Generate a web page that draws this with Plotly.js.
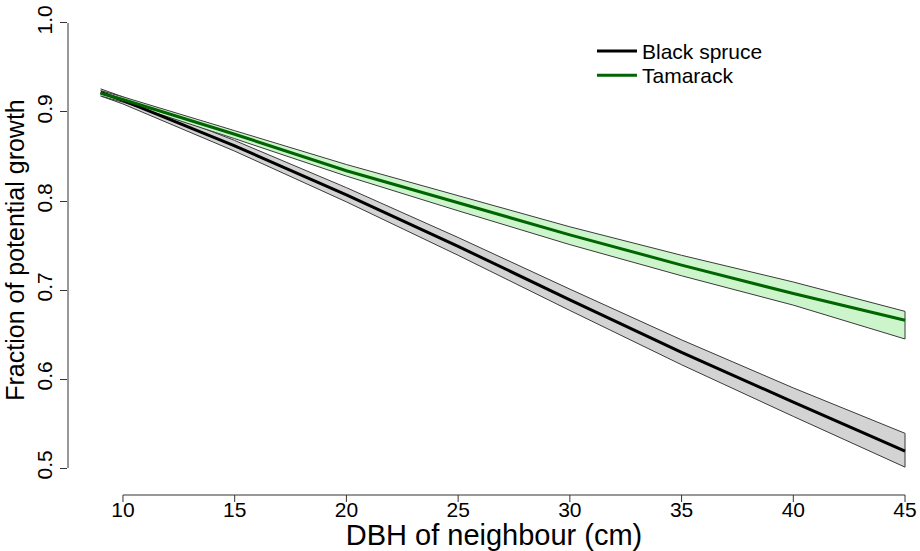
<!DOCTYPE html>
<html>
<head>
<meta charset="utf-8">
<script src="https://cdn.plot.ly/plotly-3.0.1.min.js"></script>
<style>html,body{margin:0;padding:0;background:#fff;}#chart{width:920px;height:551px;}</style>
</head>
<body>
<div id="chart"></div>
<script>
// DBH of neighbour (cm)
const dbh = [9, 10, 15, 20, 25, 30, 35, 40, 45];

// Black spruce: fitted fraction and confidence band
const spruceFit   = [0.922, 0.913, 0.862, 0.807, 0.749, 0.689, 0.630, 0.574, 0.519];
const spruceLower = [0.918, 0.909, 0.856, 0.799, 0.739, 0.677, 0.616, 0.558, 0.501];
const spruceUpper = [0.926, 0.917, 0.868, 0.815, 0.759, 0.701, 0.644, 0.590, 0.539];

// Tamarack: fitted fraction and confidence band
const tamarackFit   = [0.921, 0.914, 0.875, 0.834, 0.798, 0.762, 0.728, 0.696, 0.666];
const tamarackLower = [0.918, 0.911, 0.870, 0.828, 0.789, 0.751, 0.716, 0.683, 0.645];
const tamarackUpper = [0.924, 0.917, 0.879, 0.841, 0.806, 0.771, 0.739, 0.709, 0.676];

const seriesNames = ["Black spruce", "Tamarack"];
const xTicks = [10, 15, 20, 25, 30, 35, 40, 45];
const yTicks = [0.5, 0.6, 0.7, 0.8, 0.9, 1.0];

const FONT = "Liberation Sans, Arial, Helvetica, sans-serif";
const PLOT_H = 551 - 5 - 56;

function band(lower, upper, fill) {
  return {
    x: dbh.concat(dbh.slice().reverse()),
    y: upper.concat(lower.slice().reverse()),
    type: "scatter", mode: "lines", fill: "toself",
    fillcolor: fill,
    line: {color: "#3a3a3a", width: 1},
    showlegend: false, hoverinfo: "skip"
  };
}

const traces = [
  band(spruceLower, spruceUpper, "#d3d3d3"),
  band(tamarackLower, tamarackUpper, "#ccf5cc"),
  {x: dbh, y: spruceFit, type: "scatter", mode: "lines", name: seriesNames[0],
   legend: "legend", line: {color: "#000000", width: 3}},
  {x: dbh, y: tamarackFit, type: "scatter", mode: "lines", name: seriesNames[1],
   legend: "legend2", line: {color: "#006400", width: 3}}
];

const legendBase = {xanchor: "left", yanchor: "top", bgcolor: "rgba(0,0,0,0)",
                    font: {size: 21, family: FONT, color: "#000"}, itemwidth: 40};

const xTickShapes = xTicks.map(v => ({
  type: "line", xref: "x", yref: "paper", x0: v, x1: v, y0: 0, y1: -7 / PLOT_H,
  line: {color: "#333", width: 1}
}));

const layout = {
  width: 920, height: 551,
  margin: {l: 68, r: 0, t: 5, b: 56},
  paper_bgcolor: "#ffffff", plot_bgcolor: "#ffffff",
  font: {family: FONT, color: "#000", size: 21},
  showlegend: true,
  legend: Object.assign({x: 0.615, y: 0.947}, legendBase),
  legend2: Object.assign({x: 0.615, y: 0.898}, legendBase),
  xaxis: {
    range: [7.54, 45.67], showgrid: false, zeroline: false, showline: false,
    tickmode: "array", tickvals: xTicks, ticktext: xTicks.map(String),
    ticks: "", ticklen: 0,
    tickfont: {size: 21, family: FONT},
    title: {text: "DBH of neighbour (cm)", font: {size: 29, family: FONT}, standoff: 2}
  },
  yaxis: {
    range: [0.4697, 1.0202], showgrid: false, zeroline: false, showline: false,
    tickmode: "array", tickvals: yTicks, ticktext: yTicks.map(v => v.toFixed(1)),
    ticks: "outside", ticklen: 7, tickwidth: 1, tickcolor: "#333",
    tickangle: -90,
    tickfont: {size: 21, family: FONT},
    title: {text: "Fraction of potential growth", font: {size: 25, family: FONT}, standoff: 0}
  },
  shapes: [
    {type: "line", xref: "x", yref: "paper", x0: xTicks[0], x1: xTicks[xTicks.length - 1], y0: 0, y1: 0,
     line: {color: "#333", width: 1}},
    {type: "line", xref: "paper", yref: "y", x0: 0, x1: 0, y0: yTicks[0], y1: yTicks[yTicks.length - 1],
     line: {color: "#333", width: 1}}
  ].concat(xTickShapes)
};

Plotly.newPlot("chart", traces, layout, {displayModeBar: false, staticPlot: true});
</script>
</body>
</html>
